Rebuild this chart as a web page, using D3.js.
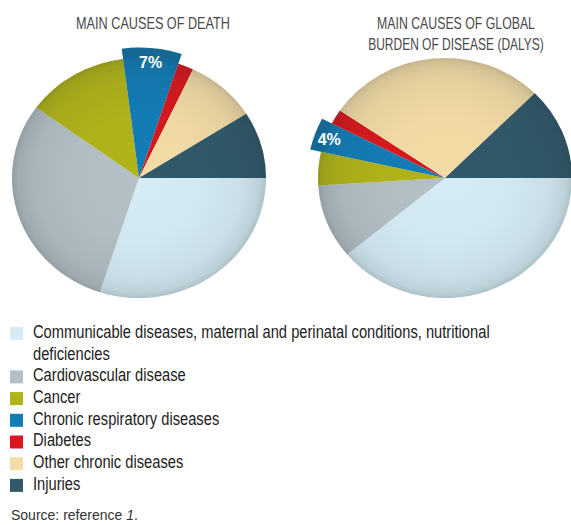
<!DOCTYPE html>
<html>
<head>
<meta charset="utf-8">
<script src="https://cdn.jsdelivr.net/npm/d3@7"></script>
<style>
    body { margin: 0; background: #fff; }
</style>
</head>
<body>
<svg id="pies" width="571" height="525"></svg>
<script>
// categories in legend / slice order (clockwise from 3 o'clock)
var categories = [
    "Communicable diseases, maternal and perinatal conditions, nutritional deficiencies",
    "Cardiovascular disease",
    "Cancer",
    "Chronic respiratory diseases",
    "Diabetes",
    "Other chronic diseases",
    "Injuries"
];
// share of deaths (%)
var deathShares = [30, 30, 13, 7, 2, 9, 9];
// share of DALYs (%)
var dalyShares = [39, 10, 4.5, 4, 2, 28, 12.5];
var highlighted = "Chronic respiratory diseases";
var deathTitle = ["MAIN CAUSES OF DEATH"];
var dalyTitle = ["MAIN CAUSES OF GLOBAL", "BURDEN OF DISEASE (DALYS)"];
var sourceText = "Source: reference ";
var sourceRef = "1";

var svg = d3.select("svg#pies"),
    rx = 127,
    ry = 120,
    explode = 11,
    font = "'Liberation Sans', Arial, sans-serif",
    color = d3
        .scaleOrdinal()
        .domain(categories)
        .range(["#d6ecf4", "#b5c0c6", "#b1b418", "#137db6", "#d8181e", "#f4dca6", "#31596a"]);

var defs = svg.append("defs");
var shade = defs
    .append("radialGradient")
    .attr("id", "shade")
    .attr("gradientUnits", "userSpaceOnUse")
    .attr("cx", 0)
    .attr("cy", 0)
    .attr("r", rx + 3);
[[0, 0], [0.5, 0.02], [0.8, 0.07], [0.93, 0.14], [1, 0.26]].forEach(s => {
    shade.append("stop")
        .attr("offset", s[0])
        .attr("stop-color", "#1d2a30")
        .attr("stop-opacity", s[1]);
});

function drawPie(values, cx, cy, label) {
    var pie = d3
            .pie()
            .sort(null)
            .value(d => d.value)
            .startAngle(Math.PI / 2)
            .endAngle(Math.PI / 2 + 2 * Math.PI),
        arc = d3
            .arc()
            .innerRadius(0)
            .outerRadius(d => (d.data.name === highlighted ? rx + explode : rx)),
        slices = pie(values.map((v, i) => ({ name: categories[i], value: v })));

    var g = svg
        .append("g")
        .attr("transform", "translate(" + cx + "," + cy + ") scale(1," + ry / rx + ")");

    g.selectAll(".slice")
        .data(slices)
        .enter()
        .append("path")
        .attr("class", "slice")
        .attr("d", arc)
        .attr("fill", d => color(d.data.name));

    g.selectAll(".shade")
        .data(slices)
        .enter()
        .append("path")
        .attr("class", "shade")
        .attr("d", arc)
        .attr("fill", "url(#shade)");

    var hi = slices.find(d => d.data.name === highlighted),
        mid = (hi.startAngle + hi.endAngle) / 2,
        lr = rx - 4;

    svg.append("text")
        .attr("x", cx + lr * Math.sin(mid))
        .attr("y", cy - lr * Math.cos(mid) * ry / rx + 6)
        .attr("text-anchor", "middle")
        .attr("font-family", font)
        .attr("font-weight", "bold")
        .attr("font-size", "16px")
        .attr("fill", "#fff")
        .text(label);
}

drawPie(deathShares, 139, 178, "7%");
drawPie(dalyShares, 445, 178, "4%");

// titles: a condensed look, squeezed to the width they have in print
function drawTitle(lines, cx, y0, widths) {
    lines.forEach((t, i) => {
        var tg = svg.append("g"),
            text = tg
                .append("text")
                .attr("x", 0)
                .attr("y", 0)
                .attr("text-anchor", "middle")
                .attr("font-family", font)
                .attr("font-size", "16px")
                .attr("fill", "#4a4a4a")
                .text(t),
            k = widths[i] / text.node().getComputedTextLength();
        tg.attr("transform", "translate(" + cx + "," + (y0 + i * 21) + ") scale(" + k + ",1)");
    });
}
drawTitle(deathTitle, 153, 29, [154]);
drawTitle(dalyTitle, 456, 29, [158, 176]);

// legend
var squeeze = 0.84,
    legend = svg.append("g").attr("class", "legend"),
    lineH = 21.7,
    maxW = 555,
    baseline = 338;

categories.forEach(name => {
    legend.append("rect")
        .attr("x", 10)
        .attr("y", baseline - 11)
        .attr("width", 13)
        .attr("height", 13)
        .attr("fill", color(name));

    var text = legend
        .append("text")
        .attr("transform", "translate(33,0) scale(" + squeeze + ",1)")
        .attr("font-family", font)
        .attr("font-size", "17.5px")
        .attr("fill", "#222");

    // simple word wrap
    var words = name.split(" "),
        line = [],
        tspan = text.append("tspan").attr("x", 0).attr("y", baseline);
    words.forEach(w => {
        line.push(w);
        tspan.text(line.join(" "));
        if (tspan.node().getComputedTextLength() > maxW && line.length > 1) {
            line.pop();
            tspan.text(line.join(" "));
            line = [w];
            baseline += lineH;
            tspan = text.append("tspan").attr("x", 0).attr("y", baseline).text(w);
        }
    });
    baseline += lineH;
});

var src = svg
    .append("text")
    .attr("x", 11)
    .attr("y", 520)
    .attr("font-family", font)
    .attr("font-size", "14px")
    .attr("fill", "#333");
src.append("tspan").text(sourceText);
src.append("tspan").attr("font-style", "italic").text(sourceRef);
src.append("tspan").text(".");
</script>
</body>
</html>
